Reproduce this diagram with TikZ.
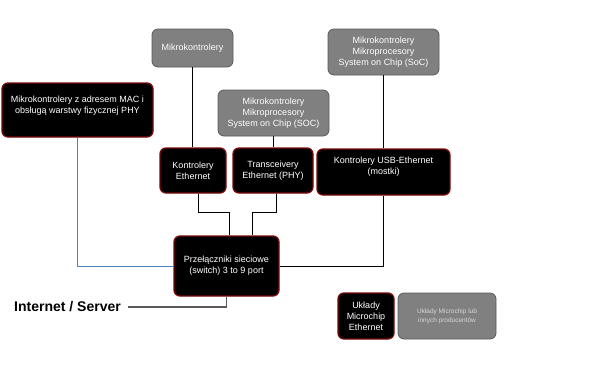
\documentclass[tikz,border=0pt]{standalone}
\usepackage{fontspec}
\setmainfont{Liberation Sans}
\usepackage{xcolor}
\definecolor{boxEdge}  {HTML}{7A0A0A}
\definecolor{greyBack} {HTML}{808080}
\definecolor{greyEdge} {HTML}{5A5A5A}
\definecolor{greyText} {HTML}{D8D8D8}
\definecolor{macLine}  {HTML}{4F81BD}
\definecolor{inetLine} {HTML}{595959}
\usetikzlibrary{positioning, calc}

\begin{document}
\begin{tikzpicture}[
    x=1pt, y=-1pt,
    hwbox/.style={draw=boxEdge, line width=1.3pt, fill=black, text=white,
                  rounded corners=6pt, inner sep=0pt, align=center,
                  font=\fontsize{9}{11}\selectfont},
    grbox/.style={draw=greyEdge, line width=0.8pt, fill=greyBack, text=white,
                  rounded corners=6pt, inner sep=0pt, align=center,
                  font=\fontsize{9}{11}\selectfont},
    link/.style={draw=black, line width=0.8pt},
]
\useasboundingbox (0,0) rectangle (604,378);

% --- sources ---
\node[grbox, minimum width=81pt, minimum height=38pt] (mcu) at (192.5,48) {Mikrokontrolery};
\node[grbox, minimum width=111pt, minimum height=46pt] (socb) at (383.5,52)
    {Mikrokontrolery\\Mikroprocesory\\System on Chip (SoC)};
\node[grbox, minimum width=111pt, minimum height=46pt] (soc) at (273.5,113)
    {Mikrokontrolery\\Mikroprocesory\\System on Chip (SOC)};
\node[hwbox, minimum width=151pt, minimum height=54pt, text depth=10pt] (macphy) at (77.5,110)
    {Mikrokontrolery z adresem MAC i\\obsługą warstwy fizycznej PHY};

% --- Ethernet parts ---
\node[hwbox, minimum width=66pt, minimum height=45pt] (ethctl) at (193,170.5)
    {Kontrolery\\Ethernet};
\node[hwbox, minimum width=80pt, minimum height=45pt] (phy) at (273,170.5)
    {Transceivery\\Ethernet (PHY)};
\node[hwbox, minimum width=133pt, minimum height=46pt, text depth=13pt] (usbeth) at (383.5,172)
    {Kontrolery USB-Ethernet\\(mostki)};
\node[hwbox, minimum width=105pt, minimum height=60pt] (switch) at (226.5,266)
    {Przełączniki sieciowe\\(switch) 3 to 9 port};
\node[font=\fontsize{14}{16}\selectfont\bfseries, inner sep=0pt, anchor=east] (inet) at (121,307)
    {Internet / Server};

% --- legend ---
\node[hwbox, minimum width=56pt, minimum height=46pt] (mchp) at (366,316)
    {Układy\\Microchip\\Ethernet};
\node[grbox, minimum width=98pt, minimum height=46pt, text=greyText,
      font=\fontsize{6.5}{9}\selectfont] (other) at (447,316)
    {Układy Microchip lub\\innych producentów};

% --- links ---
\draw[link] (mcu.south) -- (mcu.south |- ethctl.north);
\draw[link] (soc.south) -- (soc.south |- phy.north);
\draw[link] (socb.south) -- (usbeth.north);
\draw[link] ([xshift=5pt]ethctl.south) -- ++(0,19) -| ([xshift=2.5pt]switch.north);
\draw[link] ([xshift=3pt]phy.south) -- ++(0,19) -| ([xshift=25.5pt]switch.north);
\draw[link] (usbeth.south) |- (switch.east);
\draw[link, draw=macLine] (macphy.south) |- (switch.west);
\draw[link, draw=inetLine, line width=1.2pt] ([xshift=7pt]inet.east) -| (switch.south);
\end{tikzpicture}
\end{document}
